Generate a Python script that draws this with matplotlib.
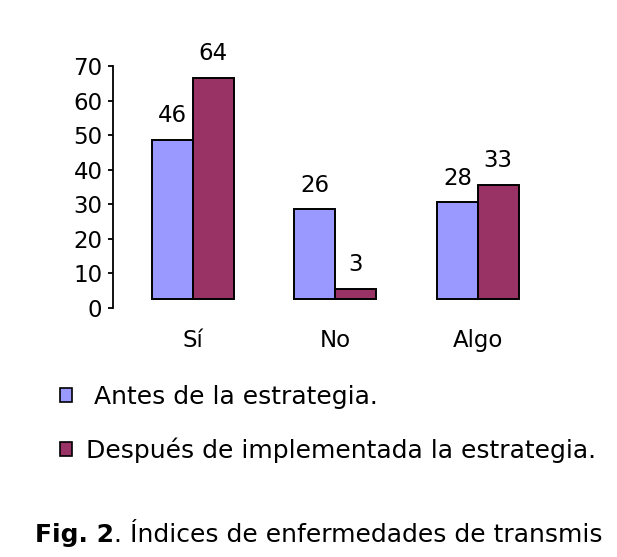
import matplotlib
matplotlib.use("Agg")
import matplotlib.pyplot as plt
import numpy as np

categorias = ["Sí", "No", "Algo"]
antes = [46, 26, 28]
despues = [64, 3, 33]
series = [" Antes de la estrategia.", "Después de implementada la estrategia."]
yticks = [0, 10, 20, 30, 40, 50, 60, 70]
pie = "Índices de enfermedades de transmis"

azul = "#9999ff"
granate = "#993366"

plt.rcParams["font.family"] = ["DejaVu Sans"]

fig = plt.figure(figsize=(6.17, 5.57), dpi=100)
fig.patch.set_facecolor("white")
ax = fig.add_axes([0.183, 0.447, 0.707, 0.4345])

x = np.arange(len(categorias))
w = 0.287
base = 2.6  # the original draws the bars a bit above the axis zero
b1 = ax.bar(x - w / 2, antes, w, bottom=base, color=azul, edgecolor="black", linewidth=1.4, label=series[0])
b2 = ax.bar(x + w / 2, despues, w, bottom=base, color=granate, edgecolor="black", linewidth=1.4, label=series[1])

for bars, vals in [(b1, antes), (b2, despues)]:
    for r, v in zip(bars, vals):
        ax.annotate(str(v), (r.get_x() + r.get_width() / 2, r.get_y() + r.get_height()),
                    xytext=(0, 9), textcoords="offset points", ha="center", va="bottom", fontsize=16.5)

ax.set_xlim(-0.56, 2.5)
ax.set_ylim(0, 70)
ax.set_yticks(yticks)
ax.set_xticks(x)
ax.set_xticklabels(categorias)
ax.tick_params(axis="y", labelsize=16.5, length=3.5, width=1.3, pad=4)
ax.tick_params(axis="x", labelsize=16.5, length=0, pad=15)
for s in ["top", "right", "bottom"]:
    ax.spines[s].set_visible(False)
ax.spines["left"].set_linewidth(1.3)

leg = fig.legend(handles=[b1, b2], labels=series, loc="upper left", bbox_to_anchor=(0.097, 0.309),
                 frameon=False, fontsize=18, handlelength=0.48, handleheight=0.48,
                 handletextpad=0.58, labelspacing=1.15, borderpad=0, borderaxespad=0)
for h in leg.legend_handles:
    h.set_linewidth(1.2)

t1 = fig.text(0.057, 0.040, "Fig. 2", fontsize=18, fontweight="bold", ha="left", va="center")
fig.canvas.draw()
bb = t1.get_window_extent()
fig.text(bb.x1 / fig.bbox.width, 0.040, ". " + pie, fontsize=18, ha="left", va="center")

fig.savefig("out.png", dpi=100)
